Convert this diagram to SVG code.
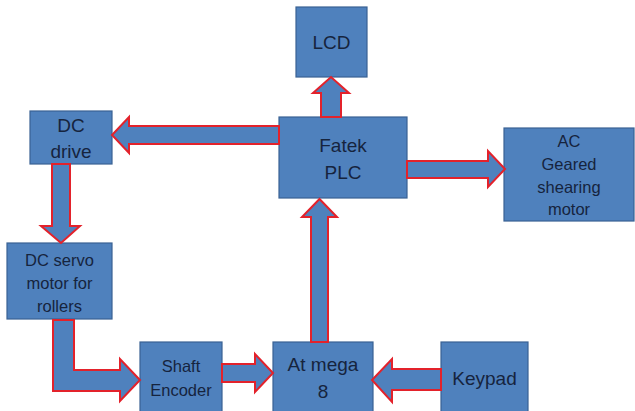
<svg xmlns="http://www.w3.org/2000/svg" width="635" height="411" viewBox="0 0 635 411">
<style>
.box{fill:#4F81BD;stroke:#3A6293;stroke-width:1.2}
.arr{fill:#4F81BD;stroke:#E3222B;stroke-width:2;stroke-linejoin:miter}
text{font-family:"Liberation Sans",Arial,sans-serif;fill:#16243D;text-anchor:middle}
.l{font-size:19px}
.s{font-size:16.5px}
</style>
<rect width="635" height="411" fill="#ffffff"/>
<g id="lcd"><rect class="box" x="296" y="7" width="71" height="70"/><text class="l" x="331.5" y="49">LCD</text></g>
<g id="dc-drive"><rect class="box" x="30" y="111" width="82" height="53"/><text class="l" x="71" y="132">DC</text><text class="l" x="71" y="158">drive</text></g>
<g id="plc"><rect class="box" x="279" y="117" width="128" height="81"/><text class="l" x="343" y="152">Fatek</text><text class="l" x="343" y="179">PLC</text></g>
<g id="ac-motor"><rect class="box" x="504" y="128" width="130" height="93"/><text class="s" x="569" y="147">AC</text><text class="s" x="569" y="170">Geared</text><text class="s" x="569" y="193">shearing</text><text class="s" x="569" y="215">motor</text></g>
<g id="dc-servo"><rect class="box" x="7" y="243" width="105" height="76"/><text class="s" x="59.5" y="266">DC servo</text><text class="s" x="59.5" y="289">motor for</text><text class="s" x="59.5" y="312">rollers</text></g>
<g id="shaft-encoder"><rect class="box" x="140" y="342" width="82" height="75"/><text class="s" x="181" y="372">Shaft</text><text class="s" x="181" y="396">Encoder</text></g>
<g id="atmega"><rect class="box" x="273" y="342" width="100" height="75"/><text class="l" x="323" y="371">At mega</text><text class="l" x="323" y="398">8</text></g>
<g id="keypad"><rect class="box" x="441" y="342" width="87" height="75"/><text class="l" x="484.5" y="385">Keypad</text></g>
<g id="connectors">
<polygon class="arr" points="321,117 321,93 313,93 331,77 349,93 341,93 341,117"/>
<polygon class="arr" points="279,126 129,126 129,117 112,135 129,153 129,144 279,144"/>
<polygon class="arr" points="52,164 52,226 41,226 61,243 80,226 70,226 70,164"/>
<polygon class="arr" points="407,161 488,161 488,151 505,169 488,187 488,178 407,178"/>
<polygon class="arr" points="53,320 74,320 74,370 120,370 120,359 140,380 120,401 120,391 53,391"/>
<polygon class="arr" points="222,364 255,364 255,354 273,373 255,392 255,382 222,382"/>
<polygon class="arr" points="311,342 311,217 302,217 319.5,199 337,217 328,217 328,342"/>
<polygon class="arr" points="441,369 392,369 392,359 372,380 392,402 392,390 441,390"/>
</g>
</svg>
